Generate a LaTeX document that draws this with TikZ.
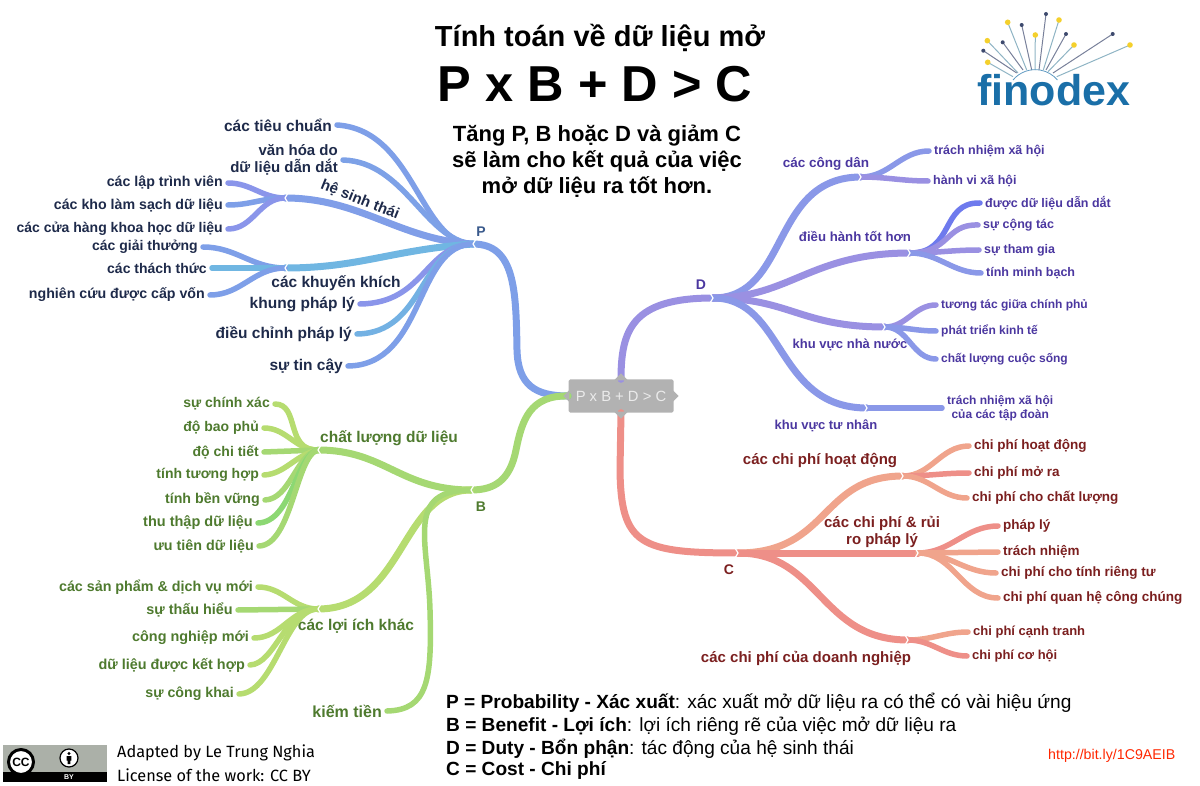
\documentclass[tikz,border=0pt]{standalone}
\usepackage{fontspec}
\setmainfont{Liberation Sans}
\newfontfamily\ccfont{Fira Sans}
\newcommand{\fsz}[1]{\fontsize{#1}{#1}\selectfont}
\definecolor{ptext}{HTML}{1E2A4A}
\definecolor{pmark}{HTML}{3A5A8C}
\definecolor{btext}{HTML}{4E7A2E}
\definecolor{dtext}{HTML}{4B37A0}
\definecolor{ctext}{HTML}{7B1F1F}
\definecolor{pcol}{HTML}{7E9FE8}
\definecolor{pcyan}{HTML}{70B6E2}
\definecolor{pvio}{HTML}{8A95EA}
\definecolor{bcol}{HTML}{A5D873}
\definecolor{blime}{HTML}{B6DC70}
\definecolor{bgreen}{HTML}{8CD873}
\definecolor{dcol}{HTML}{9A90E2}
\definecolor{dblue}{HTML}{8A98E8}
\definecolor{ccol}{HTML}{EE8F88}
\definecolor{cpale}{HTML}{F0A48C}
\definecolor{logoblue}{HTML}{1A6FA8}
\definecolor{logonavy}{HTML}{3E4A6E}
\definecolor{logoline}{HTML}{8FB4C4}
\definecolor{logoyel}{HTML}{F4D02C}
\definecolor{boxgray}{HTML}{B2B2B2}
\definecolor{badge}{HTML}{ABB0A8}
\tikzset{
	trunk/.style={line width=7pt,line cap=round},
	twig/.style={line width=5.5pt,line cap=round},
	lab/.style={font=\bfseries\fsz{#1},yshift=-1pt},
	pleft/.style={lab=#1,text=ptext,anchor=east,inner xsep=5pt,inner ysep=0pt},
	bleft/.style={lab=#1,text=btext,anchor=east,inner xsep=5pt,inner ysep=0pt},
	dright/.style={lab=#1,text=dtext,anchor=west,inner xsep=5pt,inner ysep=0pt},
	cright/.style={lab=#1,text=ctext,anchor=west,inner xsep=5pt,inner ysep=0pt},
	legend/.style={anchor=west,inner sep=0pt,font=\fsz{19.1}}
}
\begin{document}
\begin{tikzpicture}[x=1pt,y=-1pt,line join=round]
	\useasboundingbox (0,0) rectangle (1200,786);
	% heading
	\node[lab=29] (title) at (600,37) {Tính toán về dữ liệu mở};
	\node[lab=50.5] (formula) at (595,83) {P x B + D > C};
	\node[lab=22,align=center] (advice) at (597,160) {Tăng P, B hoặc D và giảm C\\[4pt]sẽ làm cho kết quả của việc\\[4pt]mở dữ liệu ra tốt hơn.};
	% centre
	\node[fill=boxgray,text=black!8,rounded corners=1.5pt,minimum width=105pt,minimum height=33pt,inner sep=0pt,font=\fsz{14.8}] (pbdc) at (621,396) {P x B + D > C};
	% P
	\coordinate (hubP) at (473,244);
	\coordinate (hubEco) at (285,198);
	\coordinate (hubInc) at (285,268);
	\node[text=pmark,lab=14] (markP) at (481,231) {P};
	\node[pleft=15.5] (standards) at (337,124) {các tiêu chuẩn};
	\node[pleft=15,align=right] (culture) at (343,159) {văn hóa do\\[2pt]dữ liệu dẫn dắt};
	\node[lab=15,text=ptext,rotate=-22] (eco) at (360,199) {hệ sinh thái};
	\node[pleft=14.2] (devs) at (228,182) {các lập trình viên};
	\node[pleft=14.2] (cleaners) at (228,204) {các kho làm sạch dữ liệu};
	\node[pleft=14] (stores) at (228,228) {các cửa hàng khoa học dữ liệu};
	\node[pleft=14] (prizes) at (203,246) {các giải thưởng};
	\node[pleft=14] (challenges) at (212,267) {các thách thức};
	\node[pleft=14.2] (funded) at (210,294) {nghiên cứu được cấp vốn};
	\node[lab=15.5,text=ptext] (incentives) at (336,282) {các khuyến khích};
	\node[pleft=15.5] (framework) at (360,303) {khung pháp lý};
	\node[pleft=15.5] (regulation) at (357,333) {điều chỉnh pháp lý};
	\node[pleft=15.5] (trust) at (348,365) {sự tin cậy};
	\draw[trunk,pcol] (pbdc.west) .. controls (535,396) and (518,385) .. (517,350) .. controls (516,290) and (515,244) .. (hubP);
	\draw[twig,pcol] (hubP) .. controls (420,245) and (415,130) .. (standards.east);
	\draw[twig,pcol!90!pcyan] (hubP) .. controls (425,240) and (405,162) .. (culture.east);
	\draw[trunk,pcol!85!pvio] (hubP) .. controls (400,240) and (360,198) .. (hubEco);
	\draw[twig,pvio] (hubEco) to[out=180,in=0] (devs.east);
	\draw[twig,pcol] (hubEco) to[out=180,in=0] (cleaners.east);
	\draw[twig,pvio] (hubEco) to[out=180,in=0] (stores.east);
	\draw[trunk,pcyan] (hubP) .. controls (390,250) and (360,268) .. (hubInc);
	\draw[twig,pcol] (hubInc) to[out=180,in=0] (prizes.east);
	\draw[twig,pcyan] (hubInc) -- (challenges.east);
	\draw[twig,pcol] (hubInc) to[out=180,in=0] (funded.east);
	\draw[twig,pvio] (hubP) .. controls (425,245) and (425,303) .. (framework.east);
	\draw[twig,pcyan!80!pcol] (hubP) .. controls (420,245) and (425,333) .. (regulation.east);
	\draw[twig,pcol] (hubP) .. controls (415,245) and (425,365) .. (trust.east);
	% B
	\coordinate (hubB) at (471,490);
	\coordinate (hubQual) at (318,450);
	\coordinate (hubBen) at (318,609);
	\node[text=btext,lab=14] (markB) at (481,506) {B};
	\node[lab=15.5,text=btext] (quality) at (389,437) {chất lượng dữ liệu};
	\node[bleft=14] (accuracy) at (275,403) {sự chính xác};
	\node[bleft=14] (coverage) at (264,427) {độ bao phủ};
	\node[bleft=14] (detail) at (264,451) {độ chi tiết};
	\node[bleft=14] (compat) at (264,474) {tính tương hợp};
	\node[bleft=14.2] (durable) at (265,499) {tính bền vững};
	\node[bleft=14.5] (collect) at (258,522) {thu thập dữ liệu};
	\node[bleft=14.3] (priority) at (259,545) {ưu tiên dữ liệu};
	\node[lab=15.5,text=btext] (benefits) at (356,625) {các lợi ích khác};
	\node[bleft=14.3] (products) at (258,586) {các sản phẩm \& dịch vụ mới};
	\node[bleft=14.4] (insight) at (238,609) {sự thấu hiểu};
	\node[bleft=14.4] (industry) at (254,637) {công nghiệp mới};
	\node[bleft=14.4] (merged) at (250,664) {dữ liệu được kết hợp};
	\node[bleft=14.2] (publicity) at (239,693) {sự công khai};
	\node[bleft=16] (money) at (387,710) {kiếm tiền};
	\draw[trunk,bcol] (pbdc.west) .. controls (530,395) and (522,420) .. (516,450) .. controls (510,480) and (495,490) .. (hubB);
	\draw[trunk,bcol] (hubB) .. controls (400,490) and (385,450) .. (hubQual);
	\draw[twig,blime] (hubQual) .. controls (285,451) and (300,404) .. (accuracy.east);
	\draw[twig,blime] (hubQual) to[out=180,in=0] (coverage.east);
	\draw[twig,bcol] (hubQual) -- (detail.east);
	\draw[twig,blime] (hubQual) .. controls (295,455) and (285,474) .. (compat.east);
	\draw[twig,bcol] (hubQual) .. controls (296,455) and (290,499) .. (durable.east);
	\draw[twig,bgreen] (hubQual) .. controls (296,455) and (292,522) .. (collect.east);
	\draw[twig,bcol] (hubQual) .. controls (296,455) and (292,545) .. (priority.east);
	\draw[trunk,blime] (hubB) .. controls (400,490) and (405,609) .. (hubBen);
	\draw[twig,blime] (hubBen) to[out=180,in=0] (products.east);
	\draw[twig,bcol] (hubBen) -- (insight.east);
	\draw[twig,blime] (hubBen) to[out=180,in=0] (industry.east);
	\draw[twig,blime] (hubBen) .. controls (285,609) and (275,664) .. (merged.east);
	\draw[twig,blime] (hubBen) .. controls (285,609) and (275,693) .. (publicity.east);
	\draw[twig,bcol] (hubB) .. controls (405,490) and (428,540) .. (430,610) .. controls (432,680) and (428,710) .. (money.east);
	% D
	\coordinate (hubD) at (713,298);
	\coordinate (hubCit) at (861,177);
	\coordinate (hubGov) at (910,253);
	\coordinate (hubPub) at (885,327);
	\coordinate (hubPri) at (867,408);
	\node[text=dtext,lab=14] (markD) at (701,284) {D};
	\node[lab=13.5,text=dtext] (citizens) at (826,163) {các công dân};
	\node[dright=12.5] (socresp) at (929,150) {trách nhiệm xã hội};
	\node[dright=12.5] (socbeh) at (928,180) {hành vi xã hội};
	\node[lab=13.2,text=dtext] (governance) at (855,235) {điều hành tốt hơn};
	\node[dright=12.5] (datadriven) at (980,202) {được dữ liệu dẫn dắt};
	\node[dright=12.5] (collab) at (978,224) {sự cộng tác};
	\node[dright=12.5] (particip) at (979,249) {sự tham gia};
	\node[dright=12.5] (transp) at (981,272) {tính minh bạch};
	\node[lab=13,text=dtext] (pubsec) at (850,344) {khu vực nhà nước};
	\node[dright=12] (gov2gov) at (936,304) {tương tác giữa chính phủ};
	\node[dright=12] (economy) at (936,330) {phát triển kinh tế};
	\node[dright=12] (life) at (936,358) {chất lượng cuộc sống};
	\node[lab=13,text=dtext] (prisec) at (826,425) {khu vực tư nhân};
	\node[dright=12,align=center] (corpresp) at (942,407) {trách nhiệm xã hội\\[2pt]của các tập đoàn};
	\draw[trunk,dcol] (pbdc.north) .. controls (621,330) and (632,298) .. (hubD);
	\draw[trunk,dblue] (hubD) .. controls (790,298) and (770,177) .. (hubCit);
	\draw[twig,dblue] (hubCit) to[out=0,in=180] (socresp.west);
	\draw[twig,dcol] (hubCit) to[out=0,in=180] (socbeh.west);
	\draw[trunk,dcol] (hubD) .. controls (790,298) and (810,253) .. (hubGov);
	\draw[twig,dblue!80!blue] (hubGov) .. controls (955,253) and (940,202) .. (datadriven.west);
	\draw[twig,dcol] (hubGov) .. controls (950,253) and (945,224) .. (collab.west);
	\draw[twig,dcol] (hubGov) to[out=0,in=180] (particip.west);
	\draw[twig,dblue] (hubGov) to[out=0,in=180] (transp.west);
	\draw[trunk,dcol] (hubD) .. controls (790,298) and (800,327) .. (hubPub);
	\draw[twig,dcol] (hubPub) to[out=0,in=180] (gov2gov.west);
	\draw[twig,dblue] (hubPub) to[out=0,in=180] (economy.west);
	\draw[twig,dblue] (hubPub) to[out=0,in=180] (life.west);
	\draw[trunk,dblue] (hubD) .. controls (785,298) and (775,408) .. (hubPri);
	\draw[twig,dblue] (hubPri) -- (hubPri -| corpresp.west);
	% C
	\coordinate (hubC) at (738,553);
	\coordinate (hubOps) at (903,476);
	\coordinate (hubRisk) at (918,553);
	\coordinate (hubBus) at (908,640);
	\node[text=ctext,lab=14] (markC) at (729,569) {C};
	\node[lab=15,text=ctext] (opcosts) at (820,459) {các chi phí hoạt động};
	\node[cright=13.5] (opcost) at (969,445) {chi phí hoạt động};
	\node[cright=13.5] (opening) at (969,472) {chi phí mở ra};
	\node[cright=13.5] (qualcost) at (967,497) {chi phí cho chất lượng};
	\node[lab=15,text=ctext,align=center] (risks) at (882,531) {các chi phí \& rủi\\[2pt]ro pháp lý};
	\node[cright=13.5] (legal) at (998,525) {pháp lý};
	\node[cright=13.5] (liability) at (998,551) {trách nhiệm};
	\node[cright=13.5] (privacy) at (996,572) {chi phí cho tính riêng tư};
	\node[cright=13.5] (pr) at (998,597) {chi phí quan hệ công chúng};
	\node[lab=15,text=ctext] (buscosts) at (806,657) {các chi phí của doanh nghiệp};
	\node[cright=13] (rivalry) at (968,631) {chi phí cạnh tranh};
	\node[cright=13] (chance) at (967,655) {chi phí cơ hội};
	\draw[trunk,ccol] (pbdc.south) -- (620,470) .. controls (621,545) and (640,553) .. (hubC);
	\draw[trunk,cpale] (hubC) .. controls (830,553) and (820,476) .. (hubOps);
	\draw[twig,cpale] (hubOps) to[out=0,in=180] (opcost.west);
	\draw[twig,ccol] (hubOps) to[out=0,in=180] (opening.west);
	\draw[twig,cpale] (hubOps) to[out=0,in=180] (qualcost.west);
	\draw[trunk,ccol] (hubC) -- (hubRisk);
	\draw[twig,ccol] (hubRisk) to[out=0,in=180] (legal.west);
	\draw[twig,cpale] (hubRisk) -- (liability.west);
	\draw[twig,cpale] (hubRisk) to[out=0,in=180] (privacy.west);
	\draw[twig,cpale] (hubRisk) to[out=0,in=180] (pr.west);
	\draw[trunk,ccol] (hubC) .. controls (820,553) and (820,640) .. (hubBus);
	\draw[twig,cpale] (hubBus) to[out=0,in=180] (rivalry.west);
	\draw[twig,ccol] (hubBus) to[out=0,in=180] (chance.west);
	% notches
	\foreach \h in {hubP,hubEco,hubInc,hubB,hubQual,hubBen}
		\draw[white,line width=1.2pt] (\h) ++(3,-5) -- ++(-3,5) -- ++(3,5);
	\foreach \h in {hubD,hubCit,hubGov,hubPub,hubPri,hubC,hubOps,hubRisk,hubBus}
		\draw[white,line width=1.2pt] (\h) ++(-3,-5) -- ++(3,5) -- ++(-3,5);
	\fill[boxgray] (pbdc.north) ++(-7,1) -- ++(7,-7) -- ++(7,7) (pbdc.south) ++(-7,-1) -- ++(7,7) -- ++(7,-7) (pbdc.east) ++(-1,-6) -- ++(6,6) -- ++(-6,6) (pbdc.west) ++(1,-6) -- ++(-6,6) -- ++(6,6);
	% legend
	\node[legend] (legP) at (446,703) {\textbf{P = Probability - Xác xuất}: xác xuất mở dữ liệu ra có thể có vài hiệu ứng};
	\node[legend] (legB) at (446,726.5) {\textbf{B = Benefit - Lợi ích}: lợi ích riêng rẽ của việc mở dữ liệu ra};
	\node[legend] (legD) at (446,749) {\textbf{D = Duty - Bổn phận}: tác động của hệ sinh thái};
	\node[legend] (legC) at (446,770.5) {\textbf{C = Cost - Chi phí}};
	\node[text=red!70!orange,anchor=west,inner sep=0pt,font=\fsz{14.2}] (link) at (1048,756) {http://bit.ly/1C9AEIB};
	% logo
	\draw[logoline,line width=1pt] (1013,76.7)--(987.7,62.3) (1018,73)--(987.3,40.7) (1026.7,70)--(1007.7,22.3) (1035,70)--(1035.3,35) (1043.3,70)--(1059,20) (1048,71.7)--(1074,45) (1056.7,76.7)--(1130,45);
	\draw[logonavy!70,line width=1pt] (1016.7,73)--(983.3,50.7) (1023,70)--(1002.7,42.3) (1031.7,70)--(1021.7,25) (1039,70)--(1046,14) (1046,70)--(1066,34) (1053,73)--(1112.7,34);
	\draw[logoblue!70,line width=.8pt] (1013,80) arc[start angle=220,end angle=320,radius=29];
	\fill[logoyel] (1007.7,22.3) circle(2.8) (1059,20) circle(2.8) (1035.3,35) circle(2.8) (987.3,40.7) circle(2.8) (1074,45) circle(2.8) (1130,45) circle(2.8) (987.7,62.3) circle(2.8);
	\fill[logonavy] (1046,14) circle(2) (1021.7,25) circle(2) (1066,34) circle(2) (1002.7,42.3) circle(2) (983.3,50.7) circle(2) (1112.7,34) circle(2);
	\node[text=logoblue,anchor=west,inner sep=0pt,font=\bfseries\fsz{43}] (finodex) at (977,90) {finodex};
	% licence badge
	\fill[badge] (3,745) rectangle (107,782);
	\fill[black] (3,772) rectangle (107,782);
	\draw[fill=white,line width=3pt] (21,762) circle(12.5);
	\node[inner sep=0pt,font=\bfseries\fsz{12}] (ccmark) at (21,762) {CC};
	\draw[fill=white,line width=1.2pt] (69,758) circle(9);
	\fill[black] (69,753.5) circle(1.6) (66.6,756) rectangle (71.4,760.5) (67.6,760.5) rectangle (70.4,764);
	\node[text=white,inner sep=0pt,font=\bfseries\fsz{7}] (bymark) at (69,777) {BY};
	\node[anchor=west,inner sep=0pt,font=\ccfont\fsz{16.3}] (adapted) at (117,753) {Adapted by Le Trung Nghia};
	\node[anchor=west,inner sep=0pt,font=\ccfont\fsz{16.3}] (license) at (117,775) {License of the work: CC BY};
\end{tikzpicture}
\end{document}
